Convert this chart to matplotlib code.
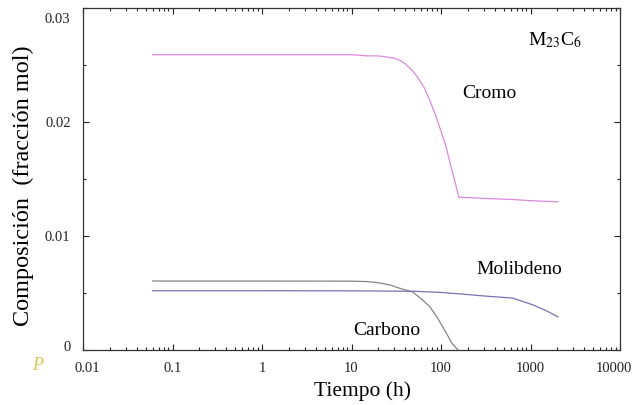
import matplotlib
matplotlib.use("Agg")
import matplotlib.pyplot as plt
import matplotlib.transforms as mtransforms
from matplotlib.ticker import LogLocator, NullFormatter, FixedLocator

# ---- data ----
cromo_t = [0.06, 1, 5, 10, 15, 20, 25, 30, 35, 40, 48, 55, 65, 75, 85, 100, 115, 130, 145, 158,
           300, 636, 1000, 2030]
cromo_v = [0.0259, 0.0259, 0.0259, 0.0259, 0.0258, 0.0258, 0.0257, 0.0256, 0.0254, 0.0251,
           0.0245, 0.0239, 0.0230, 0.0219, 0.0208, 0.0192, 0.0177, 0.0160, 0.0146, 0.0134,
           0.0133, 0.0132, 0.0131, 0.0130]

carb_t = [0.06, 1, 10, 15, 20, 27, 35, 48, 60, 75, 90, 105, 120, 132, 145, 155]
carb_v = [0.00605, 0.00605, 0.00604, 0.0060, 0.0059, 0.0057, 0.0054, 0.0051, 0.0045,
          0.0038, 0.0029, 0.0020, 0.0012, 0.0006, 0.00025, 0.0]

molib_t = [0.06, 1, 10, 50, 100, 176, 300, 636, 1070, 1500, 2030]
molib_v = [0.0052, 0.0052, 0.00519, 0.00515, 0.00505, 0.0049, 0.00474, 0.00455,
           0.00395, 0.00345, 0.0029]

x_ticks = [0.01, 0.1, 1, 10, 100, 1000, 10000]
x_tick_labels = ["0.01", "0.1", "1", "10", "100", "1000", "10000"]
y_ticks = [0, 0.01, 0.02, 0.03]
y_tick_labels = ["0", "0.01", "0.02", "0.03"]

plt.rcParams['font.family'] = ['Liberation Serif', 'DejaVu Serif']

fig = plt.figure(figsize=(6.43, 4.05), dpi=100)
ax = fig.add_axes([83/643, 55/405, 537/643, 342/405])

ax.plot(cromo_t, cromo_v, color='#dd88dd', lw=0.9)
ax.plot(carb_t, carb_v, color='#858585', lw=0.9)
ax.plot(molib_t, molib_v, color='#7474b4', lw=0.9)

ax.set_xscale('log')
ax.set_xlim(0.01, 10000)
ax.set_ylim(0, 0.03)

ax.xaxis.set_major_locator(FixedLocator(x_ticks))
ax.set_xticklabels(x_tick_labels)
ax.xaxis.set_minor_locator(LogLocator(base=10, subs=range(2, 10), numticks=20))
ax.xaxis.set_minor_formatter(NullFormatter())
ax.set_yticks(y_ticks)
ax.set_yticklabels(y_tick_labels)
ax.set_yticks([0.005, 0.015, 0.025], minor=True)

ax.tick_params(which='both', direction='in', top=True, right=True, labelsize=10.5,
               width=0.8, colors='#222222', pad=9)
ax.tick_params(which='major', length=4)
ax.tick_params(which='minor', length=2.5)
for s in ax.spines.values():
    s.set_linewidth(0.9)
    s.set_color('#333333')

# small edge offsets of tick labels as in the reference
def shift(lbl, dx, dy):
    lbl.set_transform(lbl.get_transform() + mtransforms.ScaledTranslation(dx/100, dy/100, fig.dpi_scale_trans))

xl = ax.get_xticklabels()
shift(xl[0], 4, 0)
shift(xl[-1], -6, 0)
yl = ax.get_yticklabels()
shift(yl[0], 0, 4)
shift(yl[-1], 0, -10)

ax.set_xlabel('Tiempo (h)', fontsize=15.5)
ax.xaxis.set_label_coords(0.521, -0.09)
ax.set_ylabel('Composición  (fracción mol)', fontsize=17.5)
ax.yaxis.set_label_coords(-0.091, 0.48)

ax.text(0.756, 0.751, 'Cromo', transform=ax.transAxes, ha='center', va='center', fontsize=14)
ax.text(0.812, 0.234, 'Molibdeno', transform=ax.transAxes, ha='center', va='center', fontsize=14)
ax.text(0.566, 0.058, 'Carbono', transform=ax.transAxes, ha='center', va='center', fontsize=14)
ax.text(0.829, 0.892, r'M$_{23}$C$_6$', transform=ax.transAxes, ha='left', va='baseline',
        fontsize=14, math_fontfamily='stix')

fig.text(38/643, 1 - 366/405, 'P', color='#d8c850', fontsize=13, fontstyle='italic',
         ha='center', va='center')

fig.savefig('out.png', dpi=100)
